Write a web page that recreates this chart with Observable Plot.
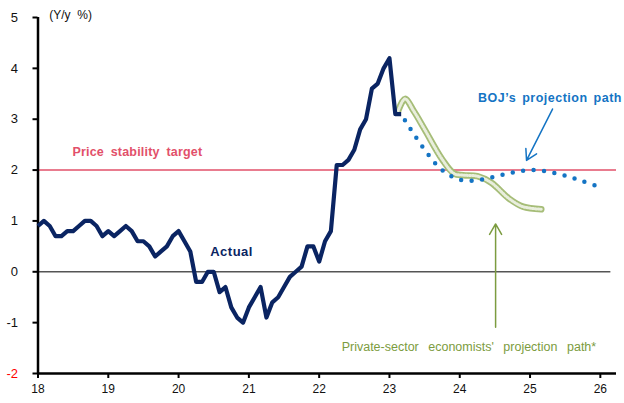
<!DOCTYPE html>
<html>
<head>
<meta charset="utf-8">
<script src="https://cdn.jsdelivr.net/npm/d3@7"></script>
<script src="https://cdn.jsdelivr.net/npm/@observablehq/plot@0.6"></script>
<style>
  html, body { margin: 0; padding: 0; background: #fff; }
  #chart { width: 624px; height: 403px; }
</style>
</head>
<body>
<div id="chart"></div>
<script>
// Consumer prices (all items less fresh food), y/y %, monthly from Jan 2018
const actualStart = 18; // year 2018, shown as "18"
const actualValues = [
  0.9, 1.0, 0.9, 0.7, 0.7, 0.8, 0.8, 0.9, 1.0, 1.0, 0.9, 0.7,
  0.8, 0.7, 0.8, 0.9, 0.8, 0.6, 0.6, 0.5, 0.3, 0.4, 0.5, 0.7,
  0.8, 0.6, 0.4, -0.2, -0.2, 0.0, 0.0, -0.4, -0.3, -0.7, -0.9, -1.0,
  -0.7, -0.5, -0.3, -0.9, -0.6, -0.5, -0.3, -0.1, 0.0, 0.1, 0.5, 0.5,
  0.2, 0.6, 0.8, 2.1, 2.1, 2.2, 2.4, 2.8, 3.0, 3.6, 3.7, 4.0,
  4.2, 3.1, 3.1
];

// BOJ projection path
const bojX = [23.22, 23.5, 23.75, 24.0, 24.25, 24.5, 24.75, 25.0, 25.25, 25.5, 25.75, 26.02];
const bojY = [2.98, 2.40, 2.0, 1.81, 1.80, 1.87, 1.95, 2.0, 1.97, 1.89, 1.78, 1.65];

// Private-sector economists' projection path
const privX = [23.12, 23.22, 23.35, 23.5, 23.75, 23.92, 24.05, 24.25, 24.45, 24.7, 24.9, 25.16];
const privY = [3.15, 3.40, 3.15, 2.80, 2.21, 1.93, 1.90, 1.88, 1.75, 1.44, 1.28, 1.23];

const yTicks = [-2, -1, 0, 1, 2, 3, 4, 5];
const xTicks = [18, 19, 20, 21, 22, 23, 24, 25, 26];
const targetValue = 2;

const actual = actualValues.map((v, i) => ({x: actualStart + i / 12, y: v}));
const boj = bojX.map((x, i) => ({x, y: bojY[i]}));
const priv = privX.map((x, i) => ({x, y: privY[i]}));

const navy = "#0a2462";
const blue = "#1474c4";
const green = "#7c9c40";
const red = "#e2506a";

const chart = Plot.plot({
  width: 624,
  height: 403,
  marginTop: 17,
  marginBottom: 30,
  marginLeft: 37.5,
  marginRight: 8,
  style: {fontFamily: "'Liberation Sans', Arial, sans-serif", fontSize: "12px", background: "#fff"},
  x: {domain: [18, 26.23]},
  y: {domain: [-2, 5]},
  marks: [
    // zero line and price stability target
    Plot.ruleY([0], {x1: 18, x2: 26.15, stroke: "#555", strokeWidth: 1.5}),
    Plot.ruleY([targetValue], {x1: 18, x2: 26.23, stroke: red, strokeWidth: 1.5}),
    // axes
    Plot.axisY({ticks: yTicks, tickFormat: d => String(d), tickSize: 5, tickPadding: 15, strokeWidth: 2, stroke: "#000",
      fill: d => d === -2 ? "#ff0000" : "#111", fontSize: 13, label: null}),
    Plot.axisX({ticks: xTicks, tickFormat: d => String(d), tickSize: 5, tickPadding: 6, strokeWidth: 2, stroke: "#000",
      fill: "#111", fontSize: 12, label: null}),
    Plot.ruleX([18], {y1: -2, y2: 5, stroke: "#000", strokeWidth: 2.5}),
    Plot.ruleY([-2], {x1: 18, x2: 26.23, stroke: "#000", strokeWidth: 2.5}),
    // private-sector path: textured band
    Plot.line(priv, {x: "x", y: "y", curve: "catmull-rom", stroke: "#a6bd78", strokeWidth: 6.5, strokeLinecap: "round"}),
    Plot.line(priv, {x: "x", y: "y", curve: "catmull-rom", stroke: "#ffffff", strokeOpacity: 0.75, strokeWidth: 3, strokeDasharray: "1.2 1.6"}),
    // BOJ projection: dotted path
    Plot.line(boj, {x: "x", y: "y", curve: "catmull-rom", stroke: blue, strokeWidth: 4.5,
      strokeLinecap: "round", strokeDasharray: "0 10.5"}),
    // actual
    Plot.line(actual, {x: "x", y: "y", stroke: navy, strokeWidth: 4.2, strokeLinejoin: "round", strokeLinecap: "butt"}),
    // annotations
    Plot.text(["(Y/y  %)"], {x: 18.16, y: 5.04, textAnchor: "start", fill: "#111", fontSize: 12}),
    Plot.text(["Price stability target"], {x: 18.49, y: 2.35, textAnchor: "start", fill: red, fontSize: 12.5, fontWeight: "bold"}),
    Plot.text(["Actual"], {x: 20.45, y: 0.385, textAnchor: "start", fill: navy, fontSize: 13, fontWeight: "bold"}),
    Plot.text(["BOJ\u2019s projection path"], {x: 24.26, y: 3.42, textAnchor: "start", fill: blue, fontSize: 12.5, fontWeight: "bold"}),
    Plot.text(["Private-sector economists' projection path*"], {x: 22.32, y: -1.48, textAnchor: "start", fill: green, fontSize: 12.5}),
    Plot.arrow([0], {x1: 25.32, y1: 3.2, x2: 24.95, y2: 2.19, stroke: blue, strokeWidth: 1.5, headLength: 12, bend: false}),
    Plot.arrow([0], {x1: 24.51, y1: -1.09, x2: 24.51, y2: 0.94, stroke: green, strokeWidth: 1.5, headLength: 12, bend: false})
  ]
});

// spread out the annotation lettering
d3.select(chart).selectAll("text").each(function() {
  const t = this.textContent;
  if (t === "Price stability target") d3.select(this).attr("letter-spacing", "0.2px").attr("word-spacing", "3px");
  if (t === "BOJ\u2019s projection path") d3.select(this).attr("letter-spacing", "0.5px").attr("word-spacing", "2px");
  if (t === "Private-sector economists' projection path*") d3.select(this).attr("word-spacing", "6px");
  if (t === "Actual") d3.select(this).attr("letter-spacing", "0.5px");
});

document.getElementById("chart").appendChild(chart);
</script>
</body>
</html>
